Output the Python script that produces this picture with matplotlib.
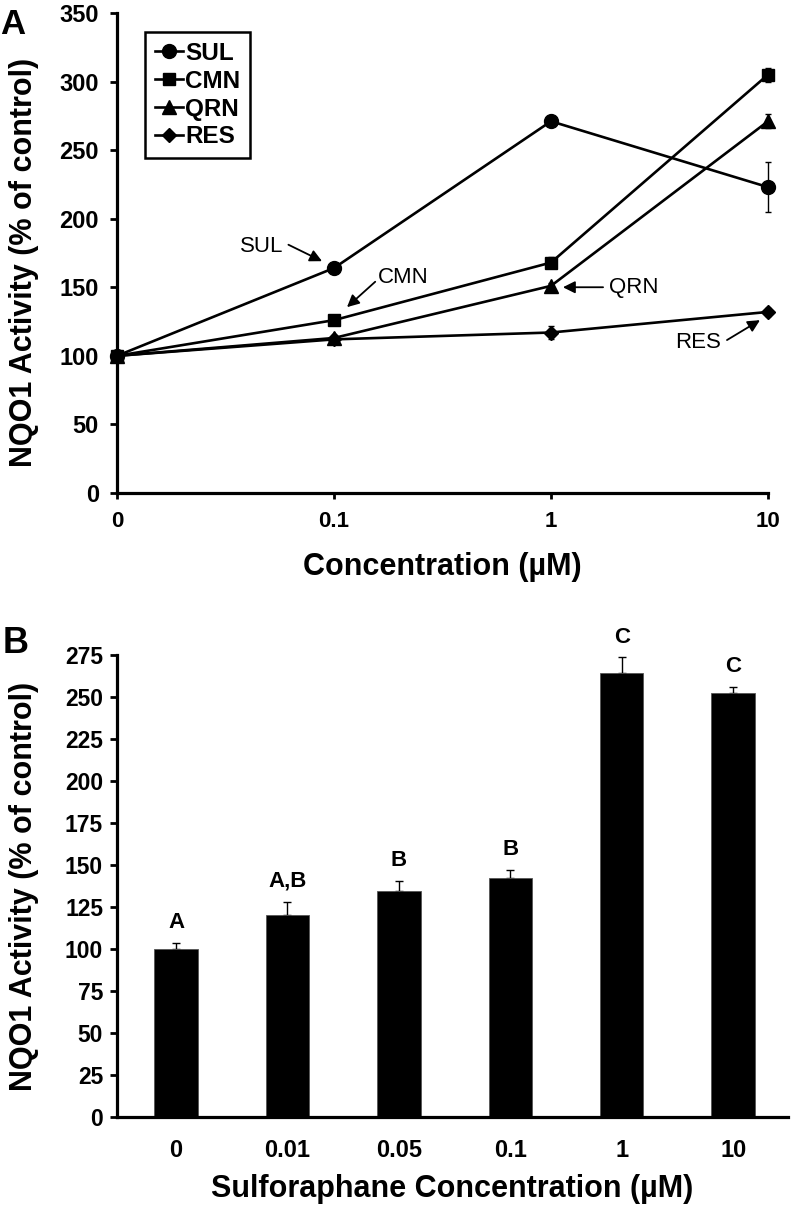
import matplotlib
matplotlib.use('Agg')
import matplotlib.pyplot as plt
import numpy as np

plt.rcParams['font.family'] = ['Liberation Sans', 'DejaVu Sans']

# Panel A data: NQO1 activity vs concentration for four compounds
conc_labels = ['0', '0.1', '1', '10']
sul = [100, 164, 271, 223]
sul_err = [0, 2, 2, 18]
cmn = [100, 126, 168, 305]
cmn_err = [0, 2, 4, 5]
qrn = [100, 113, 151, 271]
qrn_err = [0, 2, 2, 5]
res = [100, 112, 117, 132]
res_err = [0, 2, 5, 3]

# Panel B data: sulforaphane dose response
sfn_labels = ['0', '0.01', '0.05', '0.1', '1', '10']
sfn_vals = [100, 120.5, 134.5, 142, 264, 252.5]
sfn_err = [3.5, 7.7, 6, 5, 9.6, 3.6]
sfn_groups = ['A', 'A,B', 'B', 'B', 'C', 'C']

fig = plt.figure(figsize=(7.92, 12.08), dpi=100)

# ---------------- Panel A ----------------
ax1 = fig.add_axes([0.1477, 0.5919, 0.822, 0.3974])
x = np.arange(len(conc_labels))
series = [
    ('SUL', sul, sul_err, 'o', 10),
    ('CMN', cmn, cmn_err, 's', 8.5),
    ('QRN', qrn, qrn_err, '^', 9.5),
    ('RES', res, res_err, 'D', 7),
]
handles = {}
for name, vals, err, mk, ms in series:
    ax1.errorbar(x, vals, yerr=err, fmt='none', ecolor='black', elinewidth=1,
                 capsize=2, capthick=1, clip_on=False, zorder=2)
    ln, = ax1.plot(x, vals, color='black', lw=1.9, marker=mk, markersize=ms,
                   clip_on=False, zorder=3)
    handles[name] = ln

ax1.set_xlim(0, 3)
ax1.set_ylim(0, 350)
ax1.set_yticks(range(0, 351, 50))
ax1.set_xticks(x)
ax1.set_xticklabels(conc_labels)
for sp in ['top', 'right']:
    ax1.spines[sp].set_visible(False)
for sp in ['left', 'bottom']:
    ax1.spines[sp].set_linewidth(2.3)
ax1.tick_params(axis='y', direction='out', length=5, width=2, pad=8, labelsize=17)
ax1.tick_params(axis='x', direction='out', length=4, width=2, pad=9, labelsize=16)
for lab in ax1.get_xticklabels() + ax1.get_yticklabels():
    lab.set_fontweight('bold')

ax1.set_xlabel('Concentration (µM)', fontsize=22, fontweight='bold', va='center')
ax1.xaxis.set_label_coords(0.5, -0.154)
ax1.set_ylabel('NQO1 Activity (% of control)', fontsize=22, fontweight='bold', va='center')
ax1.yaxis.set_label_coords(-0.143, 0.48)

leg = ax1.legend([handles[n] for n in ['SUL', 'CMN', 'QRN', 'RES']],
                 ['SUL', 'CMN', 'QRN', 'RES'], loc='upper left',
                 bbox_to_anchor=(0.043, 0.96), borderaxespad=0,
                 fancybox=False, framealpha=1,
                 edgecolor='black', handlelength=1.15, handletextpad=0.1,
                 labelspacing=0.2, borderpad=0.4,
                 prop={'weight': 'bold', 'size': 17.5})
leg.get_frame().set_linewidth(1.8)

arrow = dict(arrowstyle='-|>', color='black', lw=1.3, mutation_scale=18,
             shrinkA=0, shrinkB=0)
# text labels with arrows pointing at series
ax1.text(0.668, 180, 'SUL', fontsize=16, ha='center', va='center')
ax1.annotate('', xy=(0.945, 169), xytext=(0.79, 181), arrowprops=arrow)
ax1.text(1.318, 157, 'CMN', fontsize=16, ha='center', va='center')
ax1.annotate('', xy=(1.06, 135.5), xytext=(1.19, 154), arrowprops=arrow)
ax1.text(2.382, 150, 'QRN', fontsize=16, ha='center', va='center')
ax1.annotate('', xy=(2.055, 150), xytext=(2.24, 150), arrowprops=arrow)
ax1.text(2.677, 110, 'RES', fontsize=16, ha='center', va='center')
ax1.annotate('', xy=(2.963, 126), xytext=(2.811, 111.5), arrowprops=arrow)

fig.text(0.0, 0.993, 'A', fontsize=25, fontweight='bold', ha='left', va='top')

# ---------------- Panel B ----------------
ax2 = fig.add_axes([0.1477, 0.0753, 0.847, 0.3825])
xb = np.arange(len(sfn_labels))
ax2.bar(xb, sfn_vals, width=0.39, color='black', edgecolor='#555555', linewidth=0.6,
        zorder=2)
ax2.errorbar(xb, sfn_vals, yerr=[np.zeros(len(sfn_err)), sfn_err], fmt='none',
             ecolor='black', elinewidth=1, capsize=3, capthick=1, zorder=1)
for xi, v, e, g in zip(xb, sfn_vals, sfn_err, sfn_groups):
    ax2.annotate(g, xy=(xi, v + e), xytext=(0, 7), textcoords='offset points',
                 ha='center', va='bottom', fontsize=16, fontweight='bold')

ax2.set_xlim(-0.53, 5.49)
ax2.set_ylim(0, 275)
ax2.set_yticks(range(0, 276, 25))
ax2.set_xticks(xb)
ax2.set_xticklabels(sfn_labels)
for sp in ['top', 'right']:
    ax2.spines[sp].set_visible(False)
for sp in ['left', 'bottom']:
    ax2.spines[sp].set_linewidth(2.3)
ax2.tick_params(axis='y', direction='out', length=5, width=2, pad=5, labelsize=16.5)
ax2.tick_params(axis='x', length=0, pad=16, labelsize=17)
for lab in ax2.get_xticklabels() + ax2.get_yticklabels():
    lab.set_fontweight('bold')

ax2.set_xlabel('Sulforaphane Concentration (µM)', fontsize=22, fontweight='bold', va='center')
ax2.xaxis.set_label_coords(0.5, -0.155)
ax2.set_ylabel('NQO1 Activity (% of control)', fontsize=22, fontweight='bold', va='center')
ax2.yaxis.set_label_coords(-0.138, 0.5)

fig.text(0.003, 0.482, 'B', fontsize=26, fontweight='bold', ha='left', va='top')

fig.savefig('out.png', dpi=100)
